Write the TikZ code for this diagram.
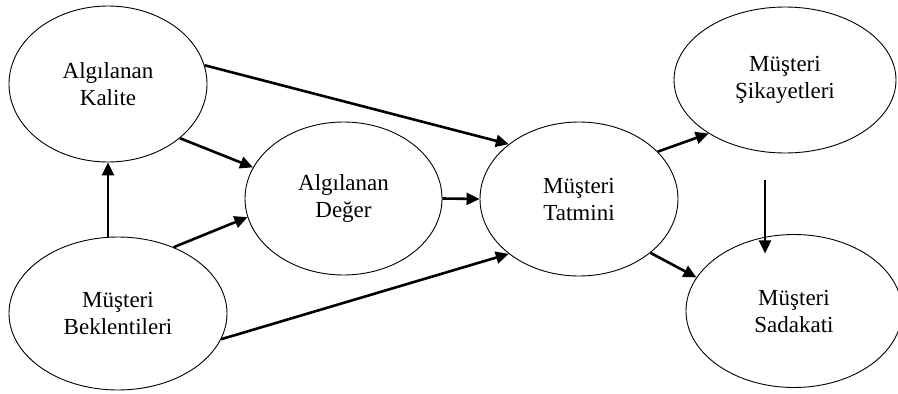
\documentclass[tikz,border=0pt]{standalone}
\usepackage{fontspec}
\setmainfont{Liberation Serif}
\usetikzlibrary{shapes.geometric,arrows.meta,calc}
\begin{document}
\begin{tikzpicture}[x=1pt,y=-1pt,
  oval/.style={ellipse,draw,line width=0.9pt,inner sep=0pt,align=center,
    font=\fontsize{23}{27}\selectfont},
  arr/.style={line width=2.6pt,-{Triangle[length=13pt,width=12pt]}}]
\useasboundingbox (0,0) rectangle (898,394);
\node[oval,minimum width=198pt,minimum height=156pt] (K) at (108,84) {Algılanan\\Kalite};
\node[oval,minimum width=218pt,minimum height=153pt] (B) at (118,313.5) {Müşteri\\Beklentileri};
\node[oval,minimum width=197pt,minimum height=153pt] (D) at (343.5,198.5) {Algılanan\\Değer};
\node[oval,minimum width=198pt,minimum height=154pt] (T) at (579,199) {Müşteri\\Tatmini};
\node[oval,minimum width=222pt,minimum height=146pt] (S) at (785,80) {Müşteri\\Şikayetleri};
\node[oval,minimum width=216pt,minimum height=153pt] (L) at (794,311) {Müşteri\\Sadakati};
\coordinate (s1) at ($(S.south)+(-20,27)$);
\coordinate (s2) at ($(s1)+(0,73)$);
\draw[arr] (K.11.4) -- (T.142.75);
\draw[arr] (K.-37.1) -- (D.161.9);
\draw[arr] (K.south |- B.north) -- (K.south);
\draw[arr] (B.50.8) -- (D.191.5);
\draw[arr] (B.-14.8) -- (T.218);
\draw[arr] (D.east) -- (T.west);
\draw[arr] (T.31.1) -- (S.215.5);
\draw[arr] (T.-37.3) -- (L.161.6);
\draw[arr] (s1) -- (s2);
\end{tikzpicture}
\end{document}
